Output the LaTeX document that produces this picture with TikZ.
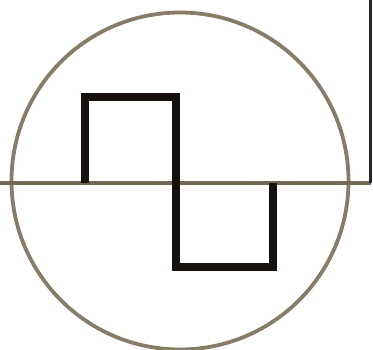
\documentclass[tikz,border=0pt]{standalone}
\usepackage{xcolor}
\usepackage{tikz}
\usetikzlibrary{positioning, calc}

\definecolor{rimgray}{RGB}{135,124,104}
\definecolor{wavedark}{RGB}{22,16,14}

\begin{document}
\begin{tikzpicture}[
    x=1pt, y=-1pt,
    rim/.style={draw=rimgray, line width=3.8pt},
    axis/.style={draw=rimgray!85!black, line width=3.4pt},
    wave/.style={draw=wavedark, line width=7.5pt, line join=miter},
    lead/.style={draw=wavedark!80!gray, line width=3.4pt, line join=miter}
]
    % Frame fixes the page to the reference size
    \useasboundingbox (0,0) rectangle (373,350);

    % Circle round the symbol
    \coordinate (centre) at (180,181);
    \draw[rim] (centre) circle[radius=168.5];

    % Axis across and the lead up the right side
    \coordinate (axisL) at (0,183);
    \coordinate (axisR) at (370.5,183);
    \coordinate (leadTop) at (370.5,0);
    \draw[axis] (axisL) -- (axisR);
    \draw[lead] (axisR) -- (leadTop);

    % Square wave, one period
    \coordinate (w0) at (85,183);
    \coordinate (w1) at (85,97);
    \coordinate (w2) at (176,97);
    \coordinate (w3) at (176,267);
    \coordinate (w4) at (273,267);
    \coordinate (w5) at (273,183);
    \draw[wave] (w0) -- (w1) -- (w2) -- (w3) -- (w4) -- (w5);
\end{tikzpicture}
\end{document}
